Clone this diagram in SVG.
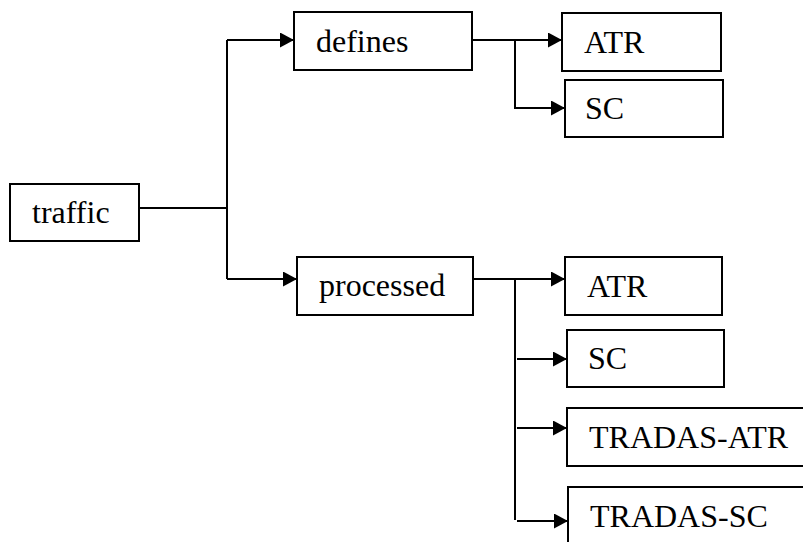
<svg xmlns="http://www.w3.org/2000/svg" width="803" height="542" viewBox="0 0 803 542">
<style>
.box{fill:#fff;stroke:#000;stroke-width:2}
.lbl{font-family:"Liberation Serif","Times New Roman",serif;font-size:32px;fill:#000}
.ln{fill:none;stroke:#000;stroke-width:2}
.ar{marker-end:url(#ah)}
</style>
<defs>
<marker id="ah" markerUnits="userSpaceOnUse" markerWidth="15" markerHeight="16" refX="14" refY="7.5" orient="auto">
<path d="M0,0 L14,7.5 L0,15 z" fill="#000"/>
</marker>
</defs>
<rect width="803" height="542" fill="#fff"/>
<g id="connectors">
<path class="ln" d="M139,208 H227"/>
<path class="ln" d="M227,40 V279"/>
<path class="ln ar" d="M227,40 H294"/>
<path class="ln ar" d="M227,279 H297"/>
<path class="ln ar" d="M472,40 H562"/>
<path class="ln ar" d="M515,40 V108 H565"/>
<path class="ln ar" d="M473,279 H565"/>
<path class="ln" d="M515,279 V520"/>
<path class="ln ar" d="M517,359 H567"/>
<path class="ln ar" d="M517,428 H567"/>
<path class="ln ar" d="M517,521 H568"/>
</g>
<g id="traffic"><rect class="box" x="10" y="184" width="129" height="57"/><text class="lbl" x="32" y="223">traffic</text></g>
<g id="defines"><rect class="box" x="294" y="12" width="178" height="58"/><text class="lbl" x="316" y="52">defines</text></g>
<g id="defines-atr"><rect class="box" x="562" y="13" width="159" height="58"/><text class="lbl" x="584" y="53">ATR</text></g>
<g id="defines-sc"><rect class="box" x="565" y="80" width="158" height="57"/><text class="lbl" x="585" y="119">SC</text></g>
<g id="processed"><rect class="box" x="297" y="257" width="176" height="58"/><text class="lbl" x="319" y="296">processed</text></g>
<g id="processed-atr"><rect class="box" x="565" y="257" width="157" height="58"/><text class="lbl" x="587" y="297">ATR</text></g>
<g id="processed-sc"><rect class="box" x="567" y="330" width="157" height="57"/><text class="lbl" x="588" y="369">SC</text></g>
<g id="tradas-atr"><rect class="box" x="567" y="408" width="240" height="58"/><text class="lbl" x="589" y="448">TRADAS-ATR</text></g>
<g id="tradas-sc"><rect class="box" x="568" y="487" width="240" height="60"/><text class="lbl" x="590" y="527">TRADAS-SC</text></g>
</svg>
